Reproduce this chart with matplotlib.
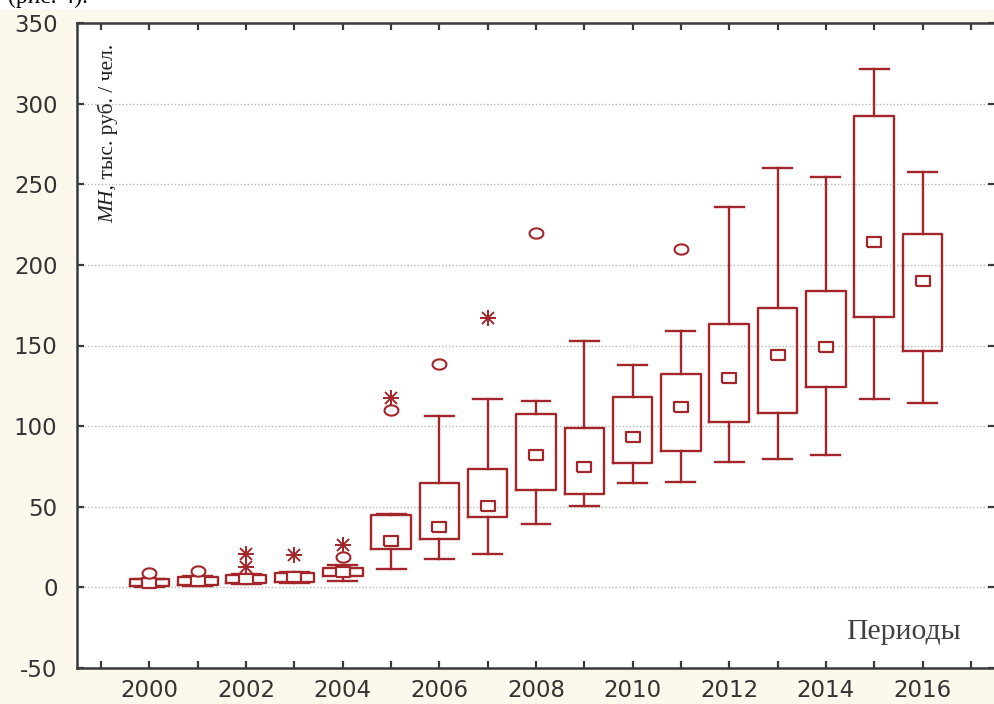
import matplotlib
matplotlib.use("Agg")
import matplotlib.pyplot as plt
from matplotlib.patches import Rectangle
import numpy as np

plt.rcParams["axes.unicode_minus"] = False

# ---- data ----
years   = [2000, 2001, 2002, 2003, 2004, 2005, 2006, 2007, 2008, 2009, 2010, 2011, 2012, 2013, 2014, 2015, 2016]
whis_lo = [0.5, 1.0, 2.0, 2.5, 3.9, 11.6, 17.8, 20.5, 39.1, 50.4, 64.5, 65.3, 77.7, 79.4, 82.3, 116.6, 114.5]
q1      = [1.0, 1.4, 2.9, 3.3, 7.0, 23.6, 30.2, 43.8, 60.3, 57.7, 77.3, 84.3, 102.7, 108.3, 124.2, 167.8, 146.5]
median  = [2.9, 3.9, 5.0, 6.2, 9.7, 29.0, 37.2, 50.4, 82.3, 74.8, 93.4, 112.0, 129.6, 143.8, 149.2, 214.3, 190.3]
q3      = [5.0, 6.6, 7.4, 8.7, 11.8, 44.8, 64.5, 73.6, 107.3, 99.0, 118.2, 132.5, 163.2, 173.4, 183.7, 292.6, 219.3]
whis_hi = [5.5, 7.0, 8.0, 9.5, 14.0, 45.5, 106.2, 116.6, 115.7, 152.7, 137.8, 158.7, 236.0, 260.2, 254.6, 321.6, 257.5]

outlier_x = [2000, 2001, 2004, 2005, 2006, 2008, 2011]
outlier_y = [8.7, 10.1, 19.0, 109.7, 138.3, 220.0, 210.0]
extreme_x = [2002, 2002, 2003, 2004, 2005, 2007]
extreme_y = [12.6, 20.9, 19.8, 26.2, 117.2, 166.8]

ylabel_italic = "МН,"
ylabel_rest = " тыс. руб. / чел."
xlabel_text = "Периоды"
caption_text = "(рис. 4)."

RED = "#a3262a"
CREAM = "#fcf8ec"
DARK = "#3a3a3a"

fig = plt.figure(figsize=(9.94, 7.04), dpi=100, facecolor=CREAM)
fig.patches.append(Rectangle((0, 1 - 9 / 704), 1, 9 / 704, transform=fig.transFigure,
                             facecolor="white", edgecolor="none", zorder=0))
fig.text(8 / 994, 1 - 3 / 704, caption_text, fontsize=17, family="Liberation Serif",
         va="baseline", ha="left", color="black")

ax = fig.add_axes([77 / 994, 36 / 704, 918 / 994, 645 / 704])
ax.set_facecolor("white")

stats = []
for i in range(len(years)):
    stats.append(dict(med=median[i], q1=q1[i], q3=q3[i], whislo=whis_lo[i],
                      whishi=whis_hi[i], fliers=[]))

lw = 1.7
ax.bxp(stats, positions=years, widths=0.82, showfliers=False, manage_ticks=False,
       boxprops=dict(color=RED, linewidth=lw),
       whiskerprops=dict(color=RED, linewidth=lw),
       capprops=dict(color=RED, linewidth=lw),
       medianprops=dict(linewidth=0),
       capwidths=0.6, zorder=3)

rect = [(-1.3, -1), (1.3, -1), (1.3, 1), (-1.3, 1), (-1.3, -1)]
ax.plot(years, median, ls="none", marker=rect, ms=10, mfc="white", mec=RED, mew=1.6, zorder=4)

t = np.linspace(0, 2 * np.pi, 41)
ellipse = list(zip(1.35 * np.cos(t), np.sin(t)))
ax.plot(outlier_x, outlier_y, ls="none", marker=ellipse, ms=10, mfc="white", mec=RED, mew=1.5, zorder=4)
ax.plot(extreme_x, extreme_y, ls="none", marker="+", ms=11, mec=RED, mew=1.4, zorder=4)
ax.plot(extreme_x, extreme_y, ls="none", marker="x", ms=8, mec=RED, mew=1.4, zorder=4)

ax.set_xlim(1998.5, 2017.5)
ax.set_ylim(-50, 350)
ax.set_yticks(range(-50, 351, 50))
ax.set_xticks(range(1999, 2018))
ax.set_xticklabels([str(y) if (y % 2 == 0) else "" for y in range(1999, 2018)])

ax.yaxis.grid(True, linestyle=(0, (1, 1.5)), color="#b8b8b8", linewidth=1.0)
ax.set_axisbelow(True)

for side in ["left", "bottom", "top", "right"]:
    ax.spines[side].set_color(DARK)
    ax.spines[side].set_linewidth(1.8)

ax.tick_params(axis="both", direction="in", length=5, width=1.6, color=DARK,
               top=True, right=True, labelsize=16.5, labelcolor="#333333")
ax.tick_params(axis="x", pad=8)
ax.tick_params(axis="y", pad=14)
for lab in ax.get_xticklabels() + ax.get_yticklabels():
    lab.set_family("DejaVu Sans")

# y label inside axes, rotated: italic part then regular part, sharing a baseline
xbase = (113 - 77) / 918
ybot = (668 - 223) / 645
t1 = ax.text(xbase, ybot, ylabel_italic, transform=ax.transAxes, rotation=90,
             ha="left", va="baseline", rotation_mode="anchor", fontsize=15.5,
             family="Liberation Serif", style="italic", color="#222222")
fig.canvas.draw()
bb = t1.get_window_extent(fig.canvas.get_renderer())
ytop = ax.transAxes.inverted().transform((0, bb.y1))[1]
ax.text(xbase, ytop, ylabel_rest, transform=ax.transAxes, rotation=90,
        ha="left", va="baseline", rotation_mode="anchor", fontsize=15.5,
        family="Liberation Serif", color="#222222")

ax.text(0.963, 0.045, xlabel_text, transform=ax.transAxes, ha="right", va="baseline",
        fontsize=21.5, family="Liberation Serif", color="#404040")

fig.savefig("out.png", dpi=100, facecolor=CREAM)
